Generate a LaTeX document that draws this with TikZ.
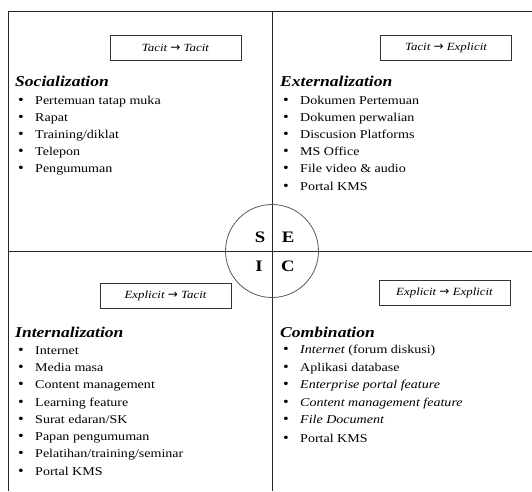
\documentclass[tikz,border=0pt]{standalone}
\usepackage{fontspec}
\setmainfont{Liberation Serif}[FakeStretch=1.17]
\newfontfamily\arrowfont{DejaVu Sans}
\tikzset{
  frame/.style={draw=black!85, line width=0.9pt},
  ring/.style={draw=black!65, line width=0.8pt},
  letter/.style={font=\fontsize{16}{16}\selectfont\bfseries, inner sep=0pt},
  mode/.style={draw=black!80, line width=0.7pt, minimum width=131pt, minimum height=25pt, inner sep=0pt, font=\fontsize{11}{11}\selectfont\itshape},
  head/.style={anchor=base west, inner sep=0pt, font=\fontsize{15}{15}\selectfont\bfseries\itshape},
  item/.style={anchor=base west, inner sep=0pt, font=\fontsize{12}{12}\selectfont},
}
\newcommand{\arr}{{\arrowfont\upshape\fontsize{12}{12}\selectfont →}}
\newcommand{\bul}[1]{\makebox[17pt][l]{{\fontsize{14}{12}\selectfont\textbullet}}#1}
\begin{document}
\begin{tikzpicture}[x=1pt,y=-1pt]
\useasboundingbox (0,0) rectangle (532,491);
% frame lines
\coordinate (tl) at (8,11);
\coordinate (tr) at (532,11);
\coordinate (bl) at (8,491);
\coordinate (tc) at (272,11);
\coordinate (bc) at (272,491);
\coordinate (ml) at (8,251);
\coordinate (mr) at (532,251);
\draw[frame] (bl) -- (tl) -- (tr);
\draw[frame] (tc) -- (bc);
\draw[frame] (ml) -- (mr);
% circle
\node[ring, circle, minimum size=93pt, inner sep=0pt] (seci) at (272,251) {};
\node[letter] (S) at (260,237) {S};
\node[letter] (E) at (288,237) {E};
\node[letter] (I) at (259,266) {I};
\node[letter] (C) at (288,266) {C};
% mode boxes
\node[mode] (tt) at (175.5,48) {Tacit \arr\ Tacit};
\node[mode] (te) at (446,48) {Tacit \arr\ Explicit};
\node[mode] (et) at (165.5,296) {Explicit \arr\ Tacit};
\node[mode] (ee) at (444.5,292.5) {Explicit \arr\ Explicit};
% headings
\node[head] (hs) at (15,86) {Socialization};
\node[head] (he) at (280,86) {Externalization};
\node[head] (hi) at (15,337) {Internalization};
\node[head] (hc) at (280,337) {Combination};
% Socialization items
\node[item] (s1) at (18,104) {\bul{Pertemuan tatap muka}};
\node[item] (s2) at (18,121) {\bul{Rapat}};
\node[item] (s3) at (18,138) {\bul{Training/diklat}};
\node[item] (s4) at (18,155) {\bul{Telepon}};
\node[item] (s5) at (18,172) {\bul{Pengumuman}};
% Externalization items
\node[item] (e1) at (283,104) {\bul{Dokumen Pertemuan}};
\node[item] (e2) at (283,121) {\bul{Dokumen perwalian}};
\node[item] (e3) at (283,138) {\bul{Discusion Platforms}};
\node[item] (e4) at (283,155) {\bul{MS Office}};
\node[item] (e5) at (283,172) {\bul{File video \& audio}};
\node[item] (e6) at (283,190) {\bul{Portal KMS}};
% Internalization items
\node[item] (i1) at (18,354) {\bul{Internet}};
\node[item] (i2) at (18,371) {\bul{Media masa}};
\node[item] (i3) at (18,388) {\bul{Content management}};
\node[item] (i4) at (18,406) {\bul{Learning feature}};
\node[item] (i5) at (18,423) {\bul{Surat edaran/SK}};
\node[item] (i6) at (18,440) {\bul{Papan pengumuman}};
\node[item] (i7) at (18,457) {\bul{Pelatihan/training/seminar}};
\node[item] (i8) at (18,475) {\bul{Portal KMS}};
% Combination items
\node[item] (c1) at (283,353) {\bul{\textit{Internet} (forum diskusi)}};
\node[item] (c2) at (283,371) {\bul{Aplikasi database}};
\node[item] (c3) at (283,388) {\bul{\textit{Enterprise portal feature}}};
\node[item] (c4) at (283,406) {\bul{\textit{Content management feature}}};
\node[item] (c5) at (283,423) {\bul{\textit{File Document}}};
\node[item] (c6) at (283,442) {\bul{Portal KMS}};
\end{tikzpicture}
\end{document}
